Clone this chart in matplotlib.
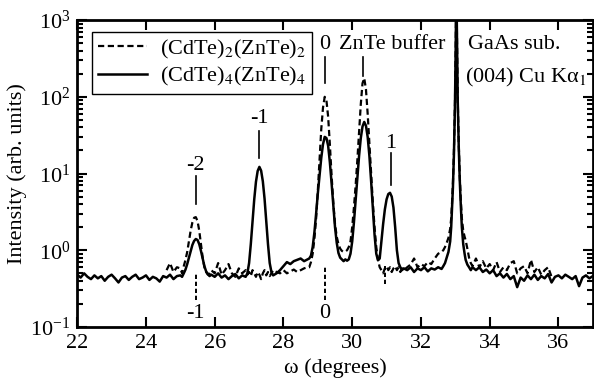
import matplotlib
matplotlib.use("Agg")
import matplotlib.pyplot as plt
import numpy as np

plt.rcParams['font.family'] = ['Liberation Serif', 'DejaVu Serif']
plt.rcParams['mathtext.fontset'] = 'stix'

# omega grid (degrees), finer around the peaks
omega = [
    22.0, 22.1, 22.2, 22.3, 22.4, 22.5, 22.6, 22.7, 22.8, 22.9,
    23.0, 23.1, 23.2, 23.3, 23.4, 23.5, 23.6, 23.7, 23.8, 23.9,
    24.0, 24.1, 24.2, 24.3, 24.4, 24.5, 24.6, 24.7, 24.8, 24.9,
    25.0, 25.05, 25.1, 25.15, 25.2, 25.25, 25.3, 25.35, 25.4, 25.45,
    25.5, 25.55, 25.6, 25.65, 25.7, 25.75, 25.8, 25.85, 25.9,
    26.0, 26.1, 26.2, 26.3, 26.4, 26.5, 26.6, 26.7, 26.8, 26.9,
    26.95, 27.0, 27.05, 27.1, 27.15, 27.2, 27.25, 27.3, 27.35, 27.4,
    27.45, 27.5, 27.55, 27.6, 27.65, 27.7,
    27.8, 27.9, 28.0, 28.1, 28.2, 28.3, 28.4, 28.5, 28.6, 28.7,
    28.75, 28.8, 28.85, 28.9, 28.95, 29.0, 29.05, 29.1, 29.15, 29.2,
    29.25, 29.3, 29.35, 29.4, 29.45, 29.5, 29.55, 29.6, 29.65, 29.7,
    29.75, 29.8, 29.85, 29.9, 29.95, 30.0, 30.05, 30.1, 30.15, 30.2,
    30.25, 30.3, 30.35, 30.4, 30.45, 30.5, 30.55, 30.6, 30.65, 30.7,
    30.75, 30.8, 30.85, 30.9, 30.95, 31.0, 31.05, 31.1, 31.15, 31.2,
    31.25, 31.3, 31.35, 31.4, 31.45, 31.5,
    31.6, 31.7, 31.8, 31.9, 32.0, 32.1, 32.2, 32.3, 32.4, 32.5, 32.6,
    32.65, 32.7, 32.75, 32.8, 32.85, 32.88, 32.9, 32.93, 32.96, 32.99,
    33.01, 33.03, 33.05, 33.07, 33.1, 33.13, 33.16, 33.19, 33.23, 33.27,
    33.3, 33.35, 33.4, 33.45,
    33.5, 33.6, 33.7, 33.8, 33.9, 34.0, 34.1, 34.2, 34.3, 34.4,
    34.5, 34.6, 34.7, 34.8, 34.9, 35.0, 35.1, 35.2, 35.3, 35.4,
    35.5, 35.6, 35.7, 35.8, 35.9, 36.0, 36.1, 36.2, 36.3, 36.4,
    36.5, 36.6, 36.7, 36.8, 36.9, 37.0,
]

# (CdTe)4(ZnTe)4, solid
sl4 = [
    0.48, 0.44, 0.50, 0.45, 0.42, 0.47, 0.43, 0.46, 0.40, 0.45,
    0.48, 0.43, 0.38, 0.44, 0.46, 0.41, 0.45, 0.48, 0.42, 0.44,
    0.47, 0.41, 0.45, 0.43, 0.39, 0.46, 0.44, 0.48, 0.42, 0.46,
    0.47, 0.45, 0.50, 0.56, 0.66, 0.80, 0.98, 1.17, 1.32, 1.40,
    1.36, 1.20, 0.98, 0.78, 0.62, 0.53, 0.49, 0.46, 0.48,
    0.45, 0.50, 0.44, 0.47, 0.42, 0.46, 0.49, 0.43, 0.47, 0.45,
    0.50, 0.68, 1.2, 2.4, 4.6, 7.8, 10.8, 12.2, 10.9, 7.9,
    4.7, 2.4, 1.2, 0.68, 0.52, 0.47,
    0.50, 0.55, 0.62, 0.70, 0.66, 0.72, 0.75, 0.78, 0.72, 0.76,
    0.78, 0.85, 1.1, 1.7, 3.0, 5.5, 9.5, 16, 24, 30,
    29, 23, 14, 7.5, 3.8, 2.0, 1.25, 0.92, 0.80, 0.76,
    0.72, 0.76, 0.73, 0.76, 0.90, 1.3, 2.3, 4.5, 9, 17,
    29, 41, 47, 42, 30, 17, 8, 3.5, 1.6, 0.9,
    0.74, 0.78, 1.3, 2.2, 3.4, 4.6, 5.4, 5.6, 5.0, 3.6,
    2.0, 1.0, 0.68, 0.60, 0.55, 0.58,
    0.55, 0.60, 0.52, 0.58, 0.55, 0.60, 0.53, 0.58, 0.56, 0.60, 0.57,
    0.62, 0.68, 0.80, 0.95, 1.3, 2.0, 3.2, 6.5, 18, 80,
    400, 3000, 500, 90, 22, 8, 3.8, 2.0, 1.2, 0.9,
    0.75, 0.65, 0.60, 0.55,
    0.60, 0.55, 0.60, 0.52, 0.56, 0.50, 0.55, 0.46, 0.50, 0.44,
    0.49, 0.42, 0.46, 0.33, 0.44, 0.40, 0.47, 0.42, 0.48, 0.41,
    0.46, 0.43, 0.49, 0.38, 0.45, 0.47, 0.43, 0.48, 0.45, 0.42,
    0.46, 0.34, 0.44, 0.47, 0.43, 0.46,
]

# (CdTe)2(ZnTe)2, dashed (None where hidden under the solid curve)
sl2 = [None] * 26 + [
    0.55, 0.68, 0.52, 0.60,
    0.58, 0.50, 0.62, 0.75, 0.95, 1.3, 1.8, 2.3, 2.65, 2.7,
    2.4, 1.8, 1.2, 0.80, 0.60, 0.52, 0.48, 0.50, 0.55,
    0.50, 0.68, 0.48, 0.55, 0.66, 0.50, 0.45, 0.58, 0.50, 0.55,
    0.48, 0.52, 0.46, 0.55, 0.50, 0.45, 0.52, 0.48, 0.42, 0.50,
    0.55, 0.47, 0.52, 0.46, 0.50, 0.55,
    0.52, 0.50, 0.55, 0.50, 0.53, 0.56, 0.52, 0.55, 0.58, 0.60,
    0.60, 0.70, 0.90, 1.4, 2.6, 6.0, 15, 38, 72, 100,
    90, 55, 24, 9.5, 4.2, 2.2, 1.5, 1.2, 1.05, 0.98,
    0.95, 0.96, 1.0, 1.1, 1.3, 2.0, 3.6, 7.0, 15, 35,
    80, 150, 175, 125, 60, 25, 10, 4.2, 2.0, 1.1,
    0.75, 0.60, 0.55, 0.50, 0.58, 0.62, 0.55, 0.60, 0.52, 0.58,
    0.62, 0.55, 0.60, 0.52, 0.58, 0.55,
    0.60, 0.65, 0.78, 0.60, 0.66, 0.62, 0.70, 0.66, 0.78, 0.90, 0.95,
    1.0, 1.1, 1.25, 1.45, 1.9, 2.6, 3.8, 7.5, 20, 85,
    420, 3000, 520, 95, 24, 9, 4.5, 2.6, 1.8, 1.5,
    1.35, 1.05, 0.80, 0.68,
    0.62, 0.78, 0.60, 0.72, 0.58, 0.66, 0.55, 0.70, 0.52, 0.60,
    0.55, 0.68, 0.72, 0.50, 0.58, 0.62, 0.50, 0.75, 0.52, 0.60,
    0.48, 0.55, 0.60, 0.45,
] + [None] * 12

# satellite markers: position, label
top_pos = [25.45, 27.3, 29.2, 31.13]
top_lbl = ['-2', '-1', '0', '1']
bot_pos = [25.45, 29.2]
bot_lbl = ['-1', '0']

x = np.array(omega, dtype=float)
y4 = np.array(sl4, dtype=float)
y2 = np.array(sl2, dtype=float)

FS = 16

fig = plt.figure(figsize=(5.94, 3.86), dpi=100)
ax = fig.add_axes([0.130, 0.153, 0.868, 0.795])

ax.plot(x, y2, color='black', lw=1.6, dashes=(2.8, 1.6),
        label=r'(CdTe)$_2$(ZnTe)$_2$')
ax.plot(x, y4, color='black', lw=1.8, label=r'(CdTe)$_4$(ZnTe)$_4$')

ax.set_yscale('log')
ax.set_xlim(22, 37)
ax.set_ylim(0.1, 1000)
ax.set_xticks([22, 24, 26, 28, 30, 32, 34, 36])

# peak labels
top_txt_y = [12.9, 52.9, 486, 24.9]
top_line = [(4.0, 9.3), (15.9, 35.8), (151, 330), (7.1, 18.5)]
for p, t, ty, (a, b) in zip(top_pos, top_lbl, top_txt_y, top_line):
    ax.text(p, ty, t, ha='center', va='center', fontsize=FS)
    ax.plot([p, p], [a, b], color='black', lw=1.2)
ax.plot([30.32, 30.32], [185, 330], color='black', lw=1.2)
ax.text(29.62, 486, 'ZnTe buffer', ha='left', va='center', fontsize=FS)

for p, t in zip(bot_pos, bot_lbl):
    ax.text(p, 0.15, t, ha='center', va='center', fontsize=FS)
ax.plot([25.45, 25.45], [0.225, 0.52], color='black', lw=1.4, dashes=(2.2, 1.4))
ax.plot([29.2, 29.2], [0.225, 0.62], color='black', lw=1.4, dashes=(2.2, 1.4))
ax.plot([30.95, 30.95], [0.36, 0.62], color='black', lw=1.4, dashes=(2.2, 1.4))

ax.text(33.38, 486, 'GaAs sub.', ha='left', va='center', fontsize=FS)
ax.text(33.28, 181, r'(004) Cu Kα$_1$', ha='left', va='center', fontsize=FS)

ax.set_xlabel('ω (degrees)', fontsize=FS, labelpad=4)
ax.set_ylabel('Intensity (arb. units)', fontsize=FS, labelpad=2)

ax.tick_params(which='both', direction='in', top=True, right=True,
               labelsize=FS, width=1.5)
ax.tick_params(which='major', length=7, pad=5)
ax.tick_params(which='minor', length=4)
for s in ax.spines.values():
    s.set_linewidth(2)

leg = ax.legend(loc='upper left', bbox_to_anchor=(0.029, 0.961),
                borderaxespad=0, fontsize=FS, handlelength=2.2,
                fancybox=False, edgecolor='black', framealpha=1,
                labelspacing=0.2, borderpad=0.25, handletextpad=0.6)
leg.get_frame().set_linewidth(1.0)

fig.savefig('out.png', dpi=100)
